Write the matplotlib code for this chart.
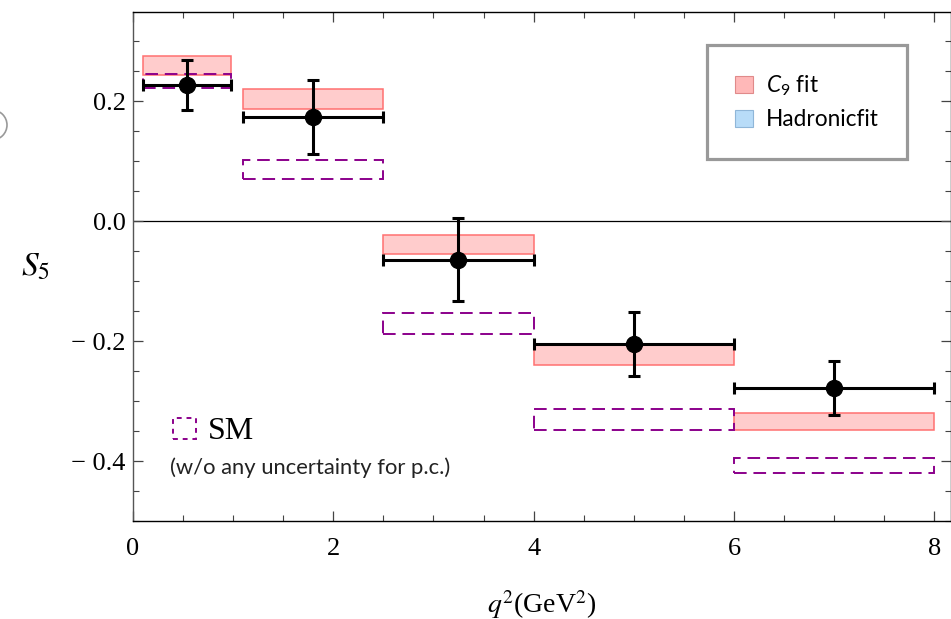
import numpy as np
import matplotlib
matplotlib.use("Agg")
import matplotlib.pyplot as plt
from matplotlib.patches import Patch, Rectangle, Arc
from matplotlib.font_manager import FontProperties
from matplotlib.ticker import MultipleLocator

# q^2 bins (GeV^2) and S5 values
bin_lo = [0.1, 1.1, 2.5, 4.0, 6.0]
bin_hi = [0.98, 2.5, 4.0, 6.0, 8.0]
q2_mid = [0.54, 1.8, 3.25, 5.0, 7.0]
s5_data = [0.227, 0.174, -0.064, -0.204, -0.278]
s5_err = [0.042, 0.061, 0.069, 0.053, 0.045]
c9_lo = [0.244, 0.188, -0.055, -0.239, -0.348]
c9_hi = [0.276, 0.220, -0.022, -0.206, -0.319]
sm_lo = [0.222, 0.071, -0.188, -0.348, -0.420]
sm_hi = [0.246, 0.103, -0.153, -0.313, -0.394]

SANS = "Lato"
SERIF = "Liberation Serif"
plt.rcParams["mathtext.fontset"] = "custom"
plt.rcParams["mathtext.rm"] = SANS
plt.rcParams["mathtext.it"] = SANS + ":italic"

W, H = 951, 619
fig = plt.figure(figsize=(W / 100, H / 100), dpi=100)
x0, x1, y0, y1 = 132.8, 951.0, 12.3, 521.3
ax = fig.add_axes([x0 / W, 1 - y1 / H, (x1 - x0) / W, (y1 - y0) / H])

lo = np.array(bin_lo)
hi = np.array(bin_hi)
mid = np.array(q2_mid)

# C9 fit bands
ax.bar(lo, np.array(c9_hi) - np.array(c9_lo), width=hi - lo, bottom=c9_lo,
       align="edge", facecolor="#ffcccc", edgecolor="#ff7070", linewidth=1.1, zorder=2)
# SM boxes (dashed outline only)
ax.bar(lo, np.array(sm_hi) - np.array(sm_lo), width=hi - lo, bottom=sm_lo,
       align="edge", facecolor="none", edgecolor="#8b008b", linewidth=1.4,
       linestyle=(0, (6.5, 3.5)), zorder=3)
# measurements
ax.errorbar(mid, s5_data, yerr=s5_err, xerr=[mid - lo, hi - mid], fmt="o",
            color="black", ms=11.5, elinewidth=2.2, capsize=4, capthick=2.2, zorder=4)

ax.axhline(0, color="black", lw=0.9, zorder=1)

ax.set_xlim(0, (x1 - x0) / 100.2)
ax.set_ylim(-0.5, -0.5 + (y1 - y0) / 600.0)
ax.xaxis.set_major_locator(MultipleLocator(2))
ax.xaxis.set_minor_locator(MultipleLocator(0.5))
ax.yaxis.set_major_locator(MultipleLocator(0.2))
ax.yaxis.set_minor_locator(MultipleLocator(0.05))
ax.tick_params(which="both", direction="in", top=True, right=True, color="#444")
ax.tick_params(which="major", length=7, width=0.9)
ax.tick_params(which="minor", length=4.5, width=0.8)
ax.tick_params(axis="x", which="major", labelsize=19, pad=12)
ax.tick_params(axis="y", which="major", labelsize=19, pad=5)
for lab in ax.get_xticklabels() + ax.get_yticklabels():
    lab.set_fontfamily(SERIF)
ax.yaxis.set_major_formatter(lambda v, p: f"{v:.1f}".replace("-", "\u2212 "))
for sp in ax.spines.values():
    sp.set_linewidth(1.0)
ax.spines["left"].set_color("#555")

ax.set_xlabel(r"$q^2$(GeV$^2$)", fontsize=20, family=SERIF, math_fontfamily="stix", labelpad=20)
ax.set_ylabel(r"$S_5$", fontsize=24, family=SERIF, math_fontfamily="stix", rotation=0, labelpad=26,
              va="center")

# legend for the fit bands
handles = [Patch(facecolor="#ffb8b8", edgecolor="#e08a8a", lw=0.8),
           Patch(facecolor="#b8dcf8", edgecolor="#8fb6d8", lw=0.8)]
leg = ax.legend(handles, [r"$C_9$ fit", "Hadronicfit"],
                prop=FontProperties(family=SANS, size=16.3, math_fontfamily="custom"),
                loc="upper left", bbox_to_anchor=(706.7 / W, 1 - 45 / H),
                bbox_transform=fig.transFigure, frameon=True, fancybox=False,
                handlelength=0.8, handleheight=0.8, handletextpad=0.55,
                labelspacing=0.5, borderpad=1.25, borderaxespad=0)
leg.get_frame().set_edgecolor("#808080")
leg.get_frame().set_linewidth(2.3)

# SM key and note
ax.add_patch(Rectangle((0.4, -0.362), 0.23, 0.035, facecolor="none", edgecolor="#8b008b",
                       lw=1.4, linestyle=(0, (2.5, 2.5)), zorder=3))
ax.text(0.75, -0.351, "SM", fontsize=23, family=SERIF, va="center")
ax.text(0.37, -0.411, "(w/o any uncertainty for p.c.)", fontsize=15.8, family=SANS,
        va="center", color="#222")

# edge of a neighbouring widget at the left border
fig.patches.append(Arc((-8, H - 125), 30, 30, theta1=-90, theta2=90, transform=None,
                       color="#999", lw=1.2))

fig.savefig("out.png", dpi=100)
